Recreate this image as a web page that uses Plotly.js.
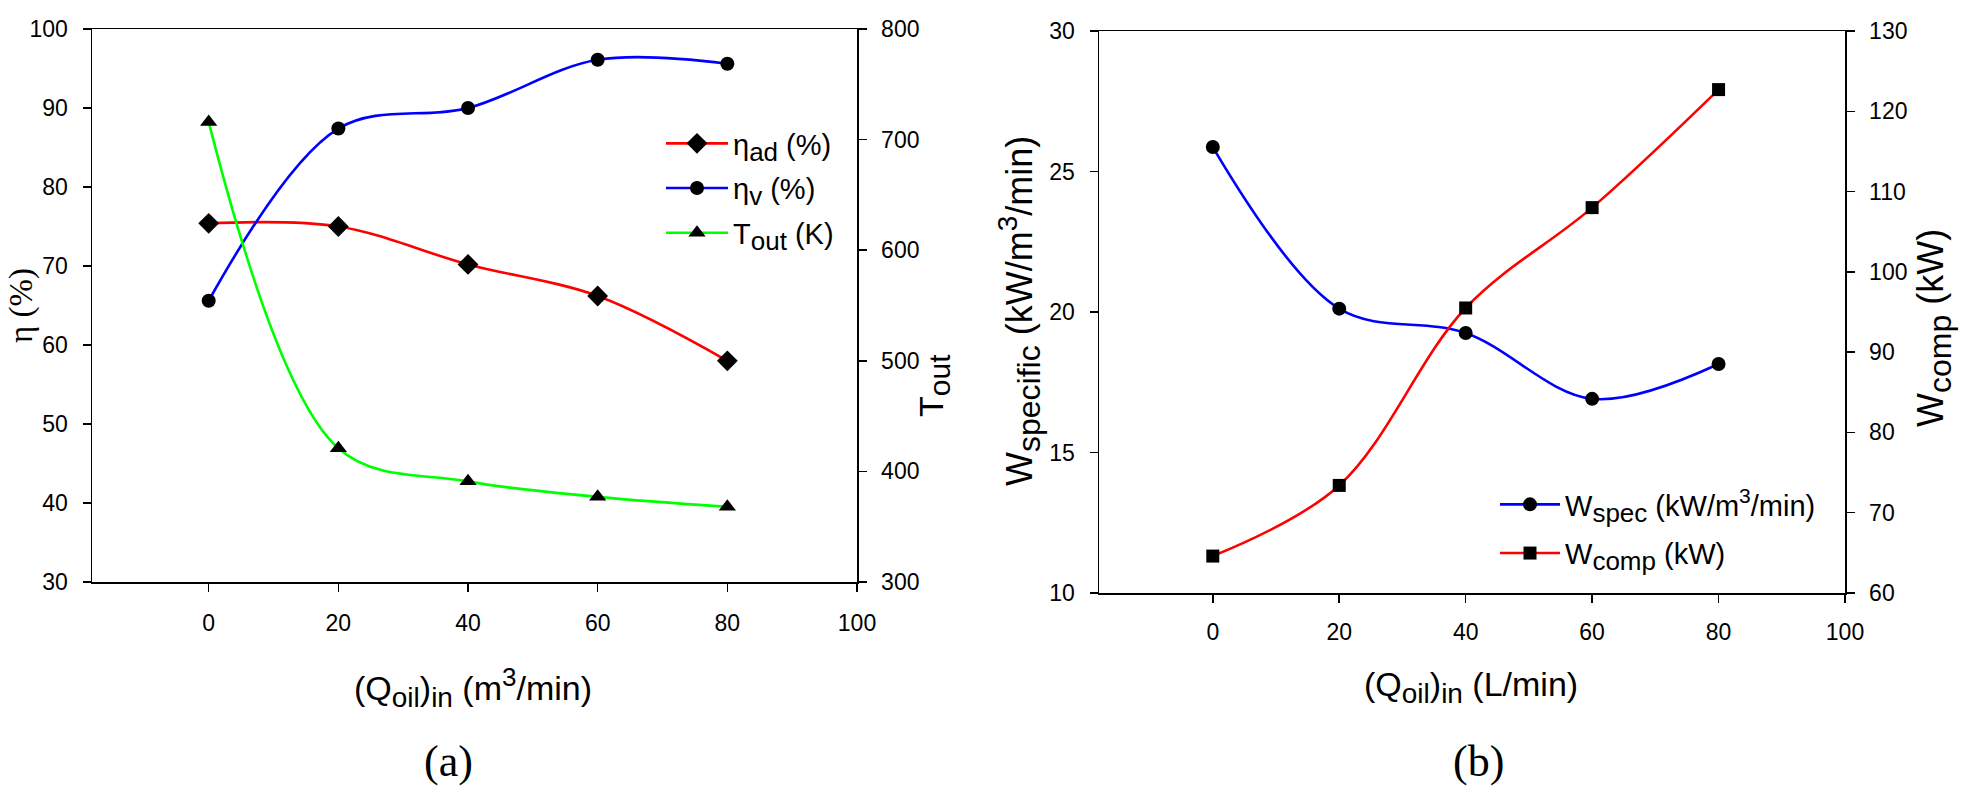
<!DOCTYPE html>
<html>
<head>
<meta charset="utf-8">
<script src="https://cdn.plot.ly/plotly-3.0.1.min.js"></script>
<style>
  html, body { margin: 0; padding: 0; background: #ffffff; }
  #chart { width: 1966px; height: 790px; }
</style>
</head>
<body>
<div id="chart"></div>
<script>
// Oil injection flow rate (shared x values of both panels)
const oilFlow = [0, 20, 40, 60, 80];
const xTickVals = [0, 20, 40, 60, 80, 100];

// Panel (a): efficiencies (%) and outlet temperature (K)
const etaAdiabatic = [75.4, 75.0, 70.2, 66.2, 58.0];
const etaVolumetric = [65.6, 87.4, 90.0, 96.1, 95.6];
const tempOutlet = [716, 421, 391, 377, 368];

// Panel (b): specific power (kW/m3/min) and compressor power (kW)
const specificPower = [25.87, 20.12, 19.25, 16.91, 18.15];
const compressorPower = [64.6, 73.4, 95.5, 108.0, 122.7];

const W = 1966, H = 790;
const SANS = 'Liberation Sans, Arial, sans-serif';
const SERIF = 'Liberation Serif, Times New Roman, serif';

function px2x(p) { return p / W; }
function px2y(p) { return 1 - p / H; }
// subscript / superscript with an explicit glyph size
function sub(t, size) { return '<sub><span style="font-size:' + size + 'px">' + t + '</span></sub>'; }
function sup(t, size) { return '<sup><span style="font-size:' + size + 'px">' + t + '</span></sup>'; }

function axis(extra) {
  return Object.assign({
    showline: true, linecolor: '#000', linewidth: 1.5,
    ticks: 'outside', ticklen: 8, tickwidth: 1.5, tickcolor: '#000',
    showgrid: false, zeroline: false, fixedrange: true,
    tickfont: { family: SANS, size: 23, color: '#000' }
  }, extra);
}

function series(x, y, name, color, symbol, size, xa, ya, legend, group) {
  return {
    x: x, y: y, name: name, xaxis: xa, yaxis: ya, legend: legend, legendgroup: group,
    type: 'scatter', mode: 'lines+markers',
    line: { color: color, width: 2.6, shape: 'spline', smoothing: 1 },
    marker: { color: '#000', symbol: symbol, size: size }
  };
}

const LS = 26; // legend subscript size
const traces = [
  series(oilFlow, etaAdiabatic, '\u03B7' + sub('ad', LS) + ' (%)', '#ff0000', 'diamond', 16, 'x', 'y', 'legend', 'a1'),
  series(oilFlow, etaVolumetric, '\u03B7' + sub('v', LS) + ' (%)', '#0000ff', 'circle', 14, 'x', 'y', 'legend', 'a2'),
  series(oilFlow, tempOutlet, 'T' + sub('out', LS) + ' (K)', '#00ff00', 'triangle-up', 15, 'x', 'y2', 'legend', 'a3'),
  series(oilFlow, specificPower, 'W' + sub('spec', LS) + ' (kW/m' + sup('3', 21) + '/min)', '#0000ff', 'circle', 14, 'x2', 'y3', 'legend2', 'b1'),
  series(oilFlow, compressorPower, 'W' + sub('comp', LS) + ' (kW)', '#ff0000', 'square', 13, 'x2', 'y4', 'legend2', 'b2')
];

const leftDom = [px2x(92), px2x(857)];
const rightDom = [px2x(1099), px2x(1845)];
const leftY = [px2y(582), px2y(29)];
const rightY = [px2y(593), px2y(31)];

function note(text, x, y, size, family, angle) {
  return {
    text: text, xref: 'paper', yref: 'paper', x: px2x(x), y: px2y(y),
    xanchor: 'center', yanchor: 'middle', showarrow: false,
    textangle: angle || 0, font: { family: family, size: size, color: '#000' }
  };
}

const legendBase = {
  bgcolor: 'rgba(0,0,0,0)', borderwidth: 0,
  font: { family: SANS, size: 29, color: '#000' },
  xanchor: 'left', yanchor: 'top', traceorder: 'grouped'
};

const layout = {
  width: W, height: H,
  margin: { l: 0, r: 0, t: 0, b: 0 },
  paper_bgcolor: '#fff', plot_bgcolor: 'rgba(0,0,0,0)',
  showlegend: true,
  xaxis: axis({ domain: leftDom, anchor: 'y', range: [-18, 100], tickvals: xTickVals, mirror: true, ticklabelstandoff: 12 }),
  yaxis: axis({ domain: leftY, anchor: 'x', range: [30, 100], dtick: 10, ticklabelstandoff: 10 }),
  yaxis2: axis({ overlaying: 'y', anchor: 'x', side: 'right', range: [300, 800], dtick: 100, ticklabelstandoff: 10 }),
  xaxis2: axis({ domain: rightDom, anchor: 'y3', range: [-18, 100], tickvals: xTickVals, mirror: true, ticklabelstandoff: 10 }),
  yaxis3: axis({ domain: rightY, anchor: 'x2', range: [10, 30], dtick: 5, ticklabelstandoff: 10 }),
  yaxis4: axis({ overlaying: 'y3', anchor: 'x2', side: 'right', range: [60, 130], dtick: 10, ticklabelstandoff: 10 }),
  legend: Object.assign({}, legendBase, { x: px2x(661), y: px2y(118), itemwidth: 62, tracegroupgap: 4 }),
  legend2: Object.assign({}, legendBase, { x: px2x(1495), y: px2y(479), itemwidth: 60, tracegroupgap: 8 }),
  annotations: [
    note('\u03B7 (%)', 21, 306, 33, SERIF, -90),
    note('T' + sub('out', 30), 934, 386, 34, SANS, -90),
    note('(Q' + sub('oil', 28) + ')' + sub('in', 28) + ' (m' + sup('3', 26) + '/min)', 473, 687, 34, SANS, 0),
    note('(a)', 448, 761, 44, SERIF, 0),
    note('W' + sub('specific', 32) + ' (kW/m' + sup('3', 28) + '/min)', 1019, 311, 36, SANS, -90),
    note('W' + sub('comp', 32) + ' (kW)', 1934, 328, 36, SANS, -90),
    note('(Q' + sub('oil', 28) + ')' + sub('in', 28) + ' (L/min)', 1471, 687, 34, SANS, 0),
    note('(b)', 1478, 761, 44, SERIF, 0)
  ]
};

Plotly.newPlot('chart', traces, layout, { staticPlot: true, displayModeBar: false });
</script>
</body>
</html>
